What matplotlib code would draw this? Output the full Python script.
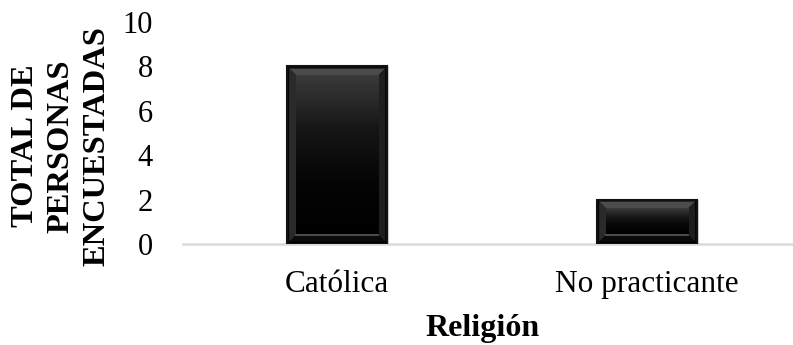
import numpy as np
import matplotlib.pyplot as plt
from matplotlib.colors import LinearSegmentedColormap
from matplotlib.patches import Polygon, Rectangle

categorias = ['Católica', 'No practicante']
total = [8, 2]
yticks = [0, 2, 4, 6, 8, 10]

plt.rcParams['font.family'] = ['Liberation Serif', 'DejaVu Serif']

fig = plt.figure(figsize=(7.93, 3.45), dpi=100)
ax = fig.add_axes([0.231, 0.293, 0.768, 0.643])

x = np.arange(len(categorias))
ancho = 0.323
barras = ax.bar(x, total, width=ancho, color='black', edgecolor='#202020',
                linewidth=1, zorder=2)

ax.set_xlim(-0.497, 1.468)
ax.set_ylim(0, 10)

# tamaño de un pixel en unidades de datos, para el bisel
fig.canvas.draw()
bb = ax.get_window_extent()
px_x = (ax.get_xlim()[1] - ax.get_xlim()[0]) / bb.width
px_y = (ax.get_ylim()[1] - ax.get_ylim()[0]) / bb.height

cmap = LinearSegmentedColormap.from_list('bisel', ['#000000', '#050505', '#161616', '#3a3a3a'])
grad = np.linspace(0, 1, 256).reshape(-1, 1)
for b in barras:
    x0, w, h = b.get_x(), b.get_width(), b.get_height()
    x1 = x0 + w
    o_x, o_y = 2 * px_x, 2 * px_y
    d_x, d_y = 9 * px_x, 9 * px_y
    # caras del bisel
    ax.add_patch(Polygon([(x0 + o_x, h - o_y), (x1 - o_x, h - o_y), (x1 - d_x, h - d_y), (x0 + d_x, h - d_y)],
                         closed=True, facecolor='#4b4b4b', edgecolor='none', zorder=3))
    ax.add_patch(Polygon([(x0 + o_x, o_y), (x0 + o_x, h - o_y), (x0 + d_x, h - d_y), (x0 + d_x, d_y)],
                         closed=True, facecolor='#2a2a2a', edgecolor='none', zorder=3))
    ax.add_patch(Polygon([(x1 - o_x, o_y), (x1 - o_x, h - o_y), (x1 - d_x, h - d_y), (x1 - d_x, d_y)],
                         closed=True, facecolor='#1e1e1e', edgecolor='none', zorder=3))
    ax.add_patch(Polygon([(x0 + o_x, o_y), (x1 - o_x, o_y), (x1 - d_x, d_y), (x0 + d_x, d_y)],
                         closed=True, facecolor='#0a0a0a', edgecolor='none', zorder=3))
    # cara interior con degradado
    im = ax.imshow(grad, cmap=cmap, origin='lower', aspect='auto',
                   extent=(x0 + d_x, x1 - d_x, d_y, h - d_y), zorder=4)
    ax.plot([x0 + d_x, x1 - d_x], [d_y, d_y], color='#5a5a5a', linewidth=1.2, zorder=5)
    ax.add_patch(Rectangle((x0, 0), w, h, fill=False, edgecolor='#111111',
                           linewidth=1.5, zorder=6))

ax.set_xlim(-0.497, 1.468)
ax.set_ylim(0, 10)
ax.set_yticks(yticks)
ax.set_xticks(x)
ax.set_xticklabels(categorias)
ax.tick_params(axis='both', length=0, labelsize=22.5)
ax.tick_params(axis='y', labelsize=22, pad=22)
ax.tick_params(axis='x', pad=19)

for s in ['top', 'right', 'left']:
    ax.spines[s].set_visible(False)
ax.spines['bottom'].set_color('#d9d9d9')
ax.spines['bottom'].set_linewidth(1.8)
ax.spines['bottom'].set_zorder(1)

ax.set_xlabel('Religión', fontsize=23, fontweight='bold')
ax.xaxis.set_label_coords(0.492, -0.315)
fig.text(0.077, 0.577, 'TOTAL DE\nPERSONAS\nENCUESTADAS', rotation=90,
         ha='center', va='center', fontsize=23.4, fontweight='bold',
         linespacing=1.32, multialignment='center')

fig.savefig('out.png', dpi=100)
